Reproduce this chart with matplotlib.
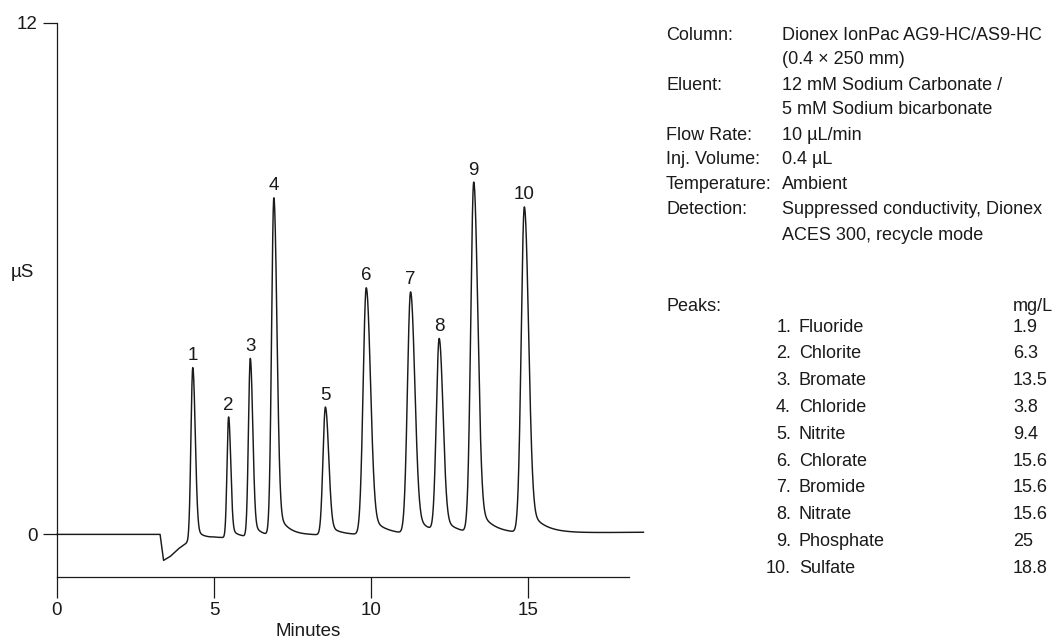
import numpy as np
import matplotlib
matplotlib.use("Agg")
import matplotlib.pyplot as plt

plt.rcParams['font.family'] = ['Liberation Sans Narrow', 'Liberation Sans', 'DejaVu Sans']
plt.rcParams['font.size'] = 13

# peaks: retention time (min), height above baseline (uS), width (sigma, min)
peak_ids = [1, 2, 3, 4, 5, 6, 7, 8, 9, 10]
peak_rt = [4.32, 5.46, 6.15, 6.90, 8.54, 9.84, 11.25, 12.16, 13.26, 14.87]
peak_h = [4.09, 2.83, 4.18, 7.92, 3.00, 5.79, 5.67, 4.52, 8.22, 7.64]
peak_sig = [0.058, 0.050, 0.058, 0.072, 0.077, 0.099, 0.099, 0.090, 0.095, 0.099]

# baseline (water dip + drift)
base_t = [0.0, 3.28, 3.39, 3.60, 3.86, 4.13, 5.0, 8.0, 12.0, 15.5, 18.66]
base_v = [0.0, 0.0, -0.61, -0.52, -0.34, -0.20, -0.09, -0.02, 0.0, 0.03, 0.05]

names = ['Fluoride', 'Chlorite', 'Bromate', 'Chloride', 'Nitrite',
         'Chlorate', 'Bromide', 'Nitrate', 'Phosphate', 'Sulfate']
conc = [1.9, 6.3, 13.5, 3.8, 9.4, 15.6, 15.6, 15.6, 25, 18.8]

cond_lbl = ['Column:', '', 'Eluent:', '', 'Flow Rate:', 'Inj. Volume:',
            'Temperature:', 'Detection:', '']
cond_val = ['Dionex IonPac AG9-HC/AS9-HC', '(0.4 \u00d7 250 mm)',
            '12 mM Sodium Carbonate /', '5 mM Sodium bicarbonate',
            '10 \u00b5L/min', '0.4 \u00b5L', 'Ambient',
            'Suppressed conductivity, Dionex', 'ACES 300, recycle mode']


def peak(t, t0, h, s):
    d = t - t0
    right = d > 0
    y = np.where(right, np.exp(-d**2 / (2 * (1.3 * s)**2)), np.exp(-d**2 / (2 * s**2)))
    tau = 4.5 * s
    tail = np.where(right, 0.1 * (1 - np.exp(-(d / s)**2 / 2)) * np.exp(-np.clip(d, 0, None) / tau), 0)
    return h * (y + tail)


t = np.linspace(0, 18.66, 6000)
sig = np.interp(t, base_t, base_v)
for t0, h, s in zip(peak_rt, peak_h, peak_sig):
    sig = sig + peak(t, t0, h, s)

W, H = 1056, 642
fig = plt.figure(figsize=(W / 100, H / 100), dpi=100)
ax = fig.add_axes([57 / W, 65 / H, 572 / W, 554 / H])
col = '#1a1a1a'

ax.plot(t, sig, color=col, lw=1.05, clip_on=False)
for i, t0 in enumerate(peak_rt):
    top = np.interp(t0, t, sig)
    ax.annotate(str(peak_ids[i]), (t0, top), xytext=(0, 2.5), textcoords='offset points',
                ha='center', va='bottom', fontsize=13.5, color=col)

ax.set_xlim(0, 18.2)
ax.set_ylim(-1.0, 12)
for sp in ['top', 'right']:
    ax.spines[sp].set_visible(False)
for sp in ['left', 'bottom']:
    ax.spines[sp].set_color(col)
    ax.spines[sp].set_linewidth(0.9)
ax.set_xticks([0, 5, 10, 15])
ax.set_yticks([0, 12])
ax.tick_params(axis='x', length=15, width=0.9, pad=3, labelsize=13.5, colors=col)
ax.tick_params(axis='y', length=10, width=0.9, pad=4, labelsize=13.5, colors=col)
ax.patch.set_visible(False)

fig.text(308 / W, 1 - 632 / H, 'Minutes', ha='center', va='center', fontsize=13.5, color=col)
fig.text(22 / W, 1 - 272 / H, '\u00b5S', ha='center', va='center', fontsize=13.5, color=col)

# conditions block
for i in range(len(cond_val)):
    yb = 1 - (39.5 + 25 * i) / H
    if cond_lbl[i]:
        fig.text(666 / W, yb, cond_lbl[i], ha='left', va='baseline', color=col)
    fig.text(782 / W, yb, cond_val[i], ha='left', va='baseline', color=col)

fig.text(666 / W, 1 - 311 / H, 'Peaks:', ha='left', va='baseline', color=col)
fig.text(1013 / W, 1 - 311 / H, 'mg/L', ha='left', va='baseline', color=col)
for i in range(len(names)):
    yb = 1 - (331.5 + 26.8 * i) / H
    fig.text(791 / W, yb, '%d.' % peak_ids[i], ha='right', va='baseline', color=col)
    fig.text(799 / W, yb, names[i], ha='left', va='baseline', color=col)
    fig.text(1013 / W, yb, '%g' % conc[i], ha='left', va='baseline', color=col)

fig.savefig('out.png', dpi=100)
